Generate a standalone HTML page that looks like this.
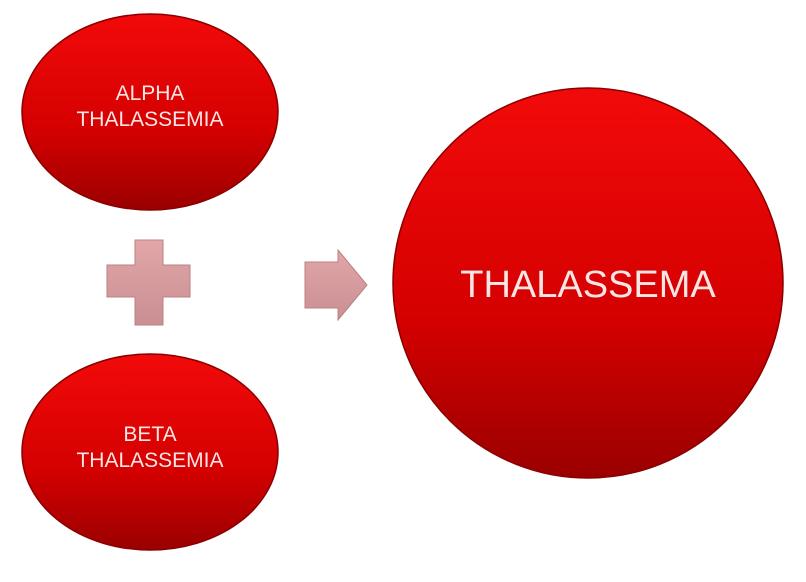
<!DOCTYPE html>
<html><head><style>
html,body{margin:0;padding:0;background:#fff;width:806px;height:582px;overflow:hidden}
</style></head><body>
<svg width="806" height="582" viewBox="0 0 806 582" xmlns="http://www.w3.org/2000/svg">
<defs>
<linearGradient id="r" x1="0" y1="0" x2="0" y2="1">
<stop offset="0" stop-color="#f20a0a"/><stop offset="0.6" stop-color="#d40000"/><stop offset="1" stop-color="#9a0000"/>
</linearGradient>
<linearGradient id="p" x1="0" y1="0" x2="0" y2="1">
<stop offset="0" stop-color="#e2a6a8"/><stop offset="1" stop-color="#c98f92"/>
</linearGradient>
</defs>
<ellipse cx="150" cy="112" rx="128" ry="98" fill="url(#r)" stroke="#8a0000" stroke-width="1.5"/>
<ellipse cx="150" cy="452" rx="128" ry="98" fill="url(#r)" stroke="#8a0000" stroke-width="1.5"/>
<circle cx="588" cy="283" r="195" fill="url(#r)" stroke="#8a0000" stroke-width="1.5"/>
<path d="M135 240 H163 V265 H190 V297 H163 V325 H135 V297 H107 V265 H135 Z" fill="url(#p)" stroke="#b98084" stroke-width="1"/>
<path d="M305 262 H338 V250 L367 285 L338 320 V308 H305 Z" fill="url(#p)" stroke="#b98084" stroke-width="1"/>
<g font-family="Liberation Sans, sans-serif" fill="#fbe6e6" text-anchor="middle">
<text x="150" y="100" font-size="21">ALPHA</text>
<text x="150" y="126" font-size="21">THALASSEMIA</text>
<text x="150" y="441" font-size="21">BETA</text>
<text x="150" y="467" font-size="21">THALASSEMIA</text>
<text x="588" y="297" font-size="38">THALASSEMA</text>
</g>
</svg>
</body></html>
